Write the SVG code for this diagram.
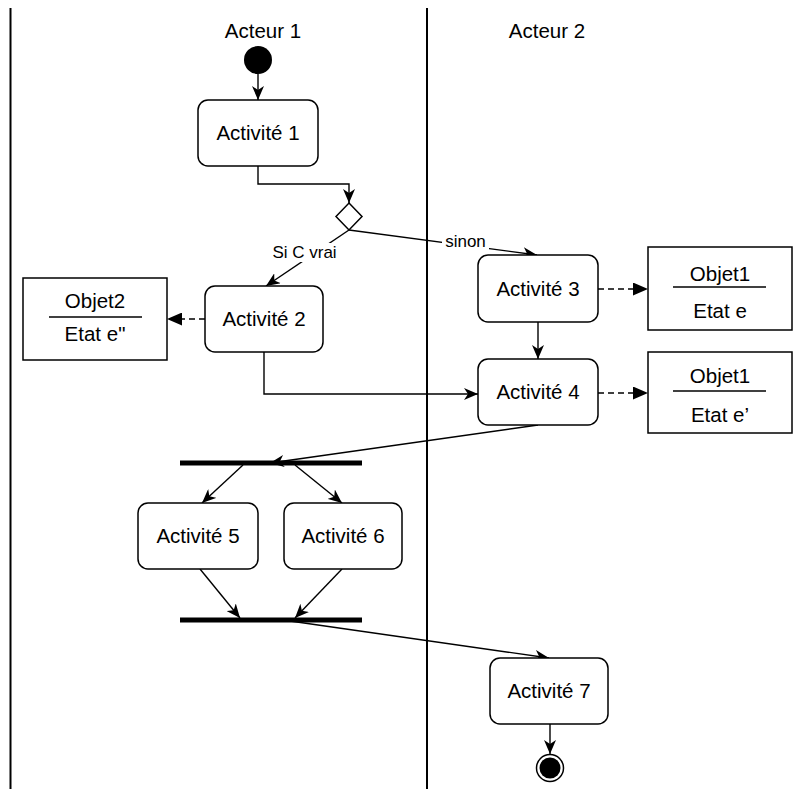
<svg xmlns="http://www.w3.org/2000/svg" width="805" height="792" viewBox="0 0 805 792">
<style>
text{font-family:"Liberation Sans",Arial,Helvetica,sans-serif;fill:#000;}
.t{font-size:20.5px;text-anchor:middle;}
.lbl{font-size:17px;text-anchor:middle;}
.act{fill:#fff;stroke:#000;stroke-width:1.5;}
.obj{fill:#fff;stroke:#000;stroke-width:1.5;}
.lane{stroke:#000;stroke-width:2;fill:none;}
.e{stroke:#000;stroke-width:1.4;fill:none;}
.d{stroke:#000;stroke-width:1.4;fill:none;stroke-dasharray:6 4;}
.bar{stroke:#000;stroke-width:5;}
</style>
<defs>
<marker id="cl" markerUnits="userSpaceOnUse" viewBox="0 0 14 12" refX="14" refY="6" markerWidth="14" markerHeight="12" orient="auto">
<path d="M0,0 L14,6 L0,12 L4,6 Z" fill="#000"/>
</marker>
<marker id="bl" markerUnits="userSpaceOnUse" viewBox="0 0 15 13" refX="15" refY="6.5" markerWidth="15" markerHeight="13" orient="auto">
<path d="M0,0 L15,6.5 L0,13 Z" fill="#000"/>
</marker>
</defs>
<rect width="805" height="792" fill="#fff"/>
<g id="lanes">
<line class="lane" x1="10.5" y1="8" x2="10.5" y2="789"/>
<line class="lane" x1="427" y1="8" x2="427" y2="789"/>
<text class="t" x="263" y="38">Acteur 1</text>
<text class="t" x="547" y="38">Acteur 2</text>
</g>
<g id="connectors">
<line class="e" x1="258" y1="74" x2="258" y2="100" marker-end="url(#cl)"/>
<polyline class="e" points="258,166 258,184 349,184 349,203" marker-end="url(#cl)"/>
<line class="e" x1="349" y1="230" x2="537" y2="255" marker-end="url(#cl)"/>
<line class="e" x1="349" y1="230" x2="266" y2="286" marker-end="url(#cl)"/>
<line class="d" x1="205" y1="319" x2="167" y2="319" marker-end="url(#bl)"/>
<polyline class="e" points="264,352 264,394 478,394" marker-end="url(#cl)"/>
<line class="d" x1="598" y1="289" x2="648" y2="289" marker-end="url(#bl)"/>
<line class="e" x1="538" y1="322" x2="538" y2="359" marker-end="url(#cl)"/>
<line class="d" x1="598" y1="393" x2="648" y2="393" marker-end="url(#bl)"/>
<line class="e" x1="538" y1="425" x2="270" y2="463" marker-end="url(#cl)"/>
<line class="e" x1="243" y1="465" x2="202" y2="503" marker-end="url(#cl)"/>
<line class="e" x1="295" y1="465" x2="342" y2="503" marker-end="url(#cl)"/>
<line class="e" x1="200" y1="569" x2="240" y2="618" marker-end="url(#cl)"/>
<line class="e" x1="342" y1="569" x2="295" y2="618" marker-end="url(#cl)"/>
<line class="e" x1="283" y1="620" x2="549" y2="658" marker-end="url(#cl)"/>
<line class="e" x1="550" y1="724" x2="550" y2="754" marker-end="url(#cl)"/>
<rect x="442" y="233" width="47" height="18" fill="#fff"/>
<text class="lbl" x="465.5" y="247">sinon</text>
<rect x="270" y="243" width="69" height="19" fill="#fff"/>
<text class="lbl" x="304.5" y="258">Si C vrai</text>
</g>
<g id="start"><circle cx="258" cy="60" r="14" fill="#000"/></g>
<g id="act1"><rect class="act" x="198" y="100" width="120" height="66" rx="10"/><text class="t" x="258" y="140">Activité 1</text></g>
<g id="decision"><polygon points="349,203 362,216.5 349,230 336,216.5" fill="#fff" stroke="#000" stroke-width="1.5"/></g>
<g id="act2"><rect class="act" x="205" y="286" width="118" height="66" rx="10"/><text class="t" x="264" y="326">Activité 2</text></g>
<g id="obj2"><rect class="obj" x="23" y="278" width="144" height="82"/><line x1="49" y1="317" x2="142" y2="317" stroke="#000" stroke-width="1.5"/><text class="t" x="95" y="308">Objet2</text><text class="t" x="95" y="341">Etat e"</text></g>
<g id="act3"><rect class="act" x="478" y="255" width="120" height="67" rx="10"/><text class="t" x="538" y="296">Activité 3</text></g>
<g id="obj1a"><rect class="obj" x="648" y="247" width="144" height="83"/><line x1="673" y1="287" x2="766" y2="287" stroke="#000" stroke-width="1.5"/><text class="t" x="720" y="281">Objet1</text><text class="t" x="720" y="318">Etat e</text></g>
<g id="act4"><rect class="act" x="478" y="359" width="120" height="66" rx="10"/><text class="t" x="538" y="399">Activité 4</text></g>
<g id="obj1b"><rect class="obj" x="648" y="352" width="144" height="81"/><line x1="673" y1="391" x2="766" y2="391" stroke="#000" stroke-width="1.5"/><text class="t" x="720" y="383">Objet1</text><text class="t" x="720" y="422">Etat e’</text></g>
<g id="fork"><line class="bar" x1="180" y1="463" x2="362" y2="463"/></g>
<g id="act5"><rect class="act" x="138" y="503" width="120" height="66" rx="10"/><text class="t" x="198" y="543">Activité 5</text></g>
<g id="act6"><rect class="act" x="284" y="503" width="118" height="66" rx="10"/><text class="t" x="343" y="543">Activité 6</text></g>
<g id="join"><line class="bar" x1="180" y1="620" x2="362" y2="620"/></g>
<g id="act7"><rect class="act" x="490" y="658" width="118" height="66" rx="10"/><text class="t" x="549" y="698">Activité 7</text></g>
<g id="end"><circle cx="550" cy="768" r="13.5" fill="#fff" stroke="#000" stroke-width="1.5"/><circle cx="550" cy="768" r="10.5" fill="#000"/></g>
</svg>
